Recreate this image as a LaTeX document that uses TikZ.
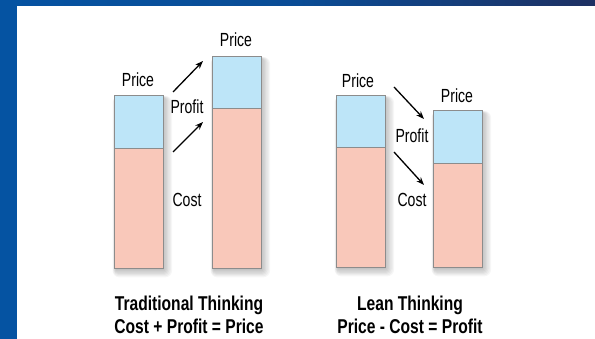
\documentclass[tikz,border=0pt]{standalone}
\usepackage{fontspec}
\setmainfont{Liberation Sans}
\newfontfamily\lblfont[FakeStretch=0.74]{Liberation Sans}
\newfontfamily\ttlfont[FakeStretch=0.78]{Liberation Sans}
\usetikzlibrary{arrows.meta}
\definecolor{bandblue}{HTML}{0553A2}
\definecolor{banddark}{HTML}{1E3062}
\definecolor{barblue}{HTML}{BDE5F8}
\definecolor{barpink}{HTML}{F9C8BA}
\definecolor{bargray}{HTML}{8C8C8C}
\tikzset{
  lbl/.style={font=\lblfont\fontsize{19}{19}\selectfont, anchor=base, inner sep=0pt},
  ttl/.style={font=\ttlfont\bfseries\fontsize{20}{20}\selectfont, anchor=base, inner sep=0pt},
  arr/.style={line width=1.3pt, -{Stealth[length=8pt,width=6pt]}},
  topseg/.style={fill=barblue, draw=bargray, line width=1pt},
  botseg/.style={fill=barpink, draw=bargray, line width=1pt},
}
\begin{document}
\begin{tikzpicture}[x=1pt,y=1pt]
\useasboundingbox (0,0) rectangle (595,339);
\fill[white] (0,0) rectangle (595,339);
% frame
\shade[left color=bandblue, right color=banddark, middle color=bandblue!80!banddark] (0,333) rectangle (595,339);
\fill[bandblue] (0,0) rectangle (17,339);
% shadows
\foreach \x/\t/\b in {114/243/70, 212/282/70, 336/243/71, 433/228/71}{
  \foreach \i in {1,...,7}{
    \fill[black, opacity=0.035, rounded corners=\i pt]
      (\x+2-\i*0.5, \b-\i*1.2) rectangle (\x+49+\i*1.3, \t-2+\i*0.3);
  }
}
% bars
\draw[botseg] (114,70) rectangle (163,190);
\draw[topseg] (114,190) rectangle (163,243);
\draw[botseg] (212,70) rectangle (261,230);
\draw[topseg] (212,230) rectangle (261,282);
\draw[botseg] (336,71) rectangle (385,191);
\draw[topseg] (336,191) rectangle (385,243);
\draw[botseg] (433,71) rectangle (482,175);
\draw[topseg] (433,175) rectangle (482,228);
% labels traditional
\node[lbl] (tprice1) at (138,252) {Price};
\node[lbl] (tprice2) at (236,292) {Price};
\node[lbl] (tprofit) at (187,225) {Profit};
\node[lbl] (tcost) at (187,132) {Cost};
% labels lean
\node[lbl] (lprice1) at (358,251) {Price};
\node[lbl] (lprice2) at (457,236) {Price};
\node[lbl] (lprofit) at (412,196) {Profit};
\node[lbl] (lcost) at (412,132) {Cost};
% arrows
\coordinate (ta1s) at (173,247); \coordinate (ta1e) at (203,278);
\coordinate (ta2s) at (173,187); \coordinate (ta2e) at (203,217);
\coordinate (la1s) at (394,252); \coordinate (la1e) at (424,220);
\coordinate (la2s) at (394,187); \coordinate (la2e) at (424,154);
\draw[arr] (ta1s) -- (ta1e);
\draw[arr] (ta2s) -- (ta2e);
\draw[arr] (la1s) -- (la1e);
\draw[arr] (la2s) -- (la2e);
% titles
\node[ttl] (tt1) at (189,28) {Traditional Thinking};
\node[ttl] (tt2) at (189,5) {Cost + Profit = Price};
\node[ttl] (lt1) at (410,28) {Lean Thinking};
\node[ttl] (lt2) at (410,5) {Price - Cost = Profit};
\end{tikzpicture}
\end{document}
